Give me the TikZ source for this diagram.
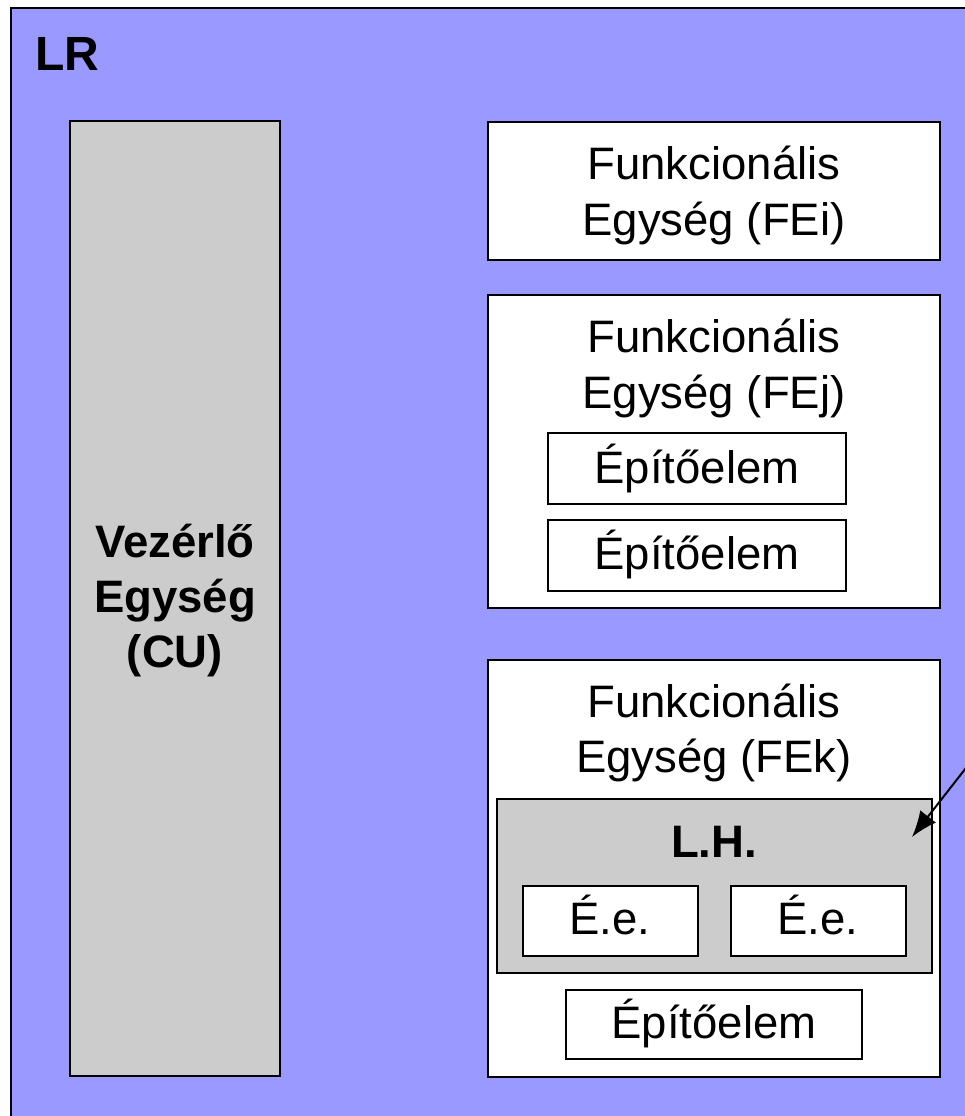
\documentclass[tikz,border=0pt]{standalone}
\usepackage{fontspec}
\setmainfont{Liberation Sans}
\usetikzlibrary{arrows.meta}

\definecolor{lrblue}{RGB}{153,153,255}
\definecolor{cugray}{RGB}{204,204,204}

\tikzset{
  box/.style={draw=black, line width=1.2pt, fill=white},
  graybox/.style={draw=black, line width=1.2pt, fill=cugray},
  lbl/.style={anchor=base, inner sep=0pt, font=\fontsize{22.75}{28}\selectfont},
  blbl/.style={lbl, font=\fontsize{22.75}{28}\selectfont\bfseries}
}

\begin{document}
\begin{tikzpicture}[x=0.5pt, y=-0.5pt]
  \useasboundingbox (0,0) rectangle (965,1116);
  \clip (0,0) rectangle (965,1116);

  % LR background
  \draw[fill=lrblue, line width=1pt] (11,8) rectangle (985,1136);
  \node[blbl, anchor=base west] (lr) at (35,70) {\fontsize{24}{28}\selectfont LR};

  % Control unit
  \draw[graybox] (70,121) rectangle (280,1076);
  \node[blbl] (cu1) at (175,557) {Vezérlő};
  \node[blbl] (cu2) at (175,612) {Egység};
  \node[blbl] (cu3) at (175,667) {(CU)};

  % FEi
  \draw[box] (488,122) rectangle (940,260);
  \node[lbl] (fei1) at (714,179) {Funkcionális};
  \node[lbl] (fei2) at (714,235) {Egység (FEi)};

  % FEj
  \draw[box] (488,295) rectangle (940,608);
  \node[lbl] (fej1) at (714,352) {Funkcionális};
  \node[lbl] (fej2) at (714,408) {Egység (FEj)};
  \draw[box] (548,433) rectangle (846,504);
  \node[lbl] (ep1) at (697,483) {Építőelem};
  \draw[box] (548,520) rectangle (846,591);
  \node[lbl] (ep2) at (697,569) {Építőelem};

  % FEk
  \draw[box] (488,660) rectangle (940,1077);
  \node[lbl] (fek1) at (714,717) {Funkcionális};
  \node[lbl] (fek2) at (714,772) {Egység (FEk)};
  \draw[graybox] (497,799) rectangle (932,973);
  \node[blbl] (lh) at (714,857) {L.H.};
  \draw[box] (523,886) rectangle (698,956);
  \node[lbl] (ee1) at (610,934) {É.e.};
  \draw[box] (731,886) rectangle (906,956);
  \node[lbl] (ee2) at (818,934) {É.e.};
  \draw[box] (566,990) rectangle (862,1059);
  \node[lbl] (ep3) at (714,1038) {Építőelem};

  % pointer into L.H.
  \coordinate (src) at (980,750);
  \coordinate (lhpt) at (912,837);
  \draw[line width=1pt, -{Latex[length=13pt, width=10pt]}] (src) -- (lhpt);
\end{tikzpicture}
\end{document}
